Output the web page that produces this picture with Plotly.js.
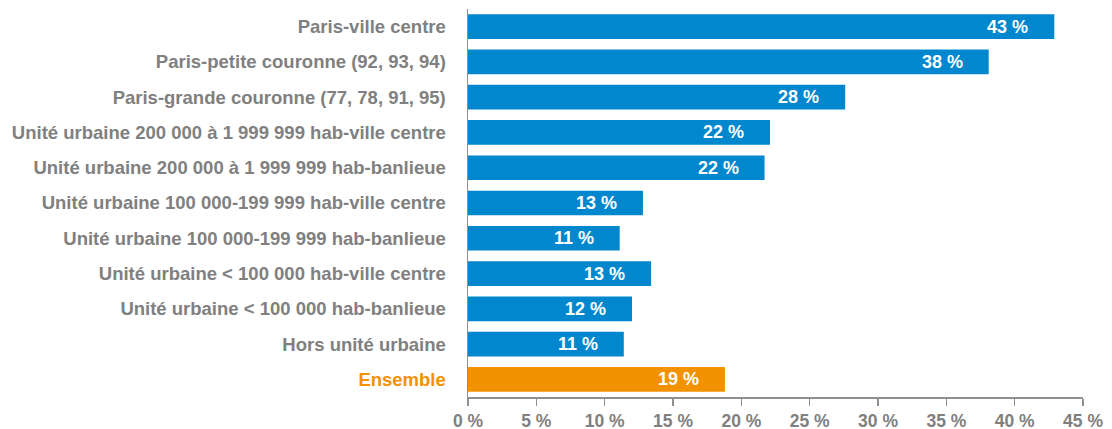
<!DOCTYPE html>
<html>
<head>
<meta charset="utf-8">
<script src="https://cdn.plot.ly/plotly-3.0.1.min.js"></script>
<style>html,body{margin:0;padding:0;background:#fff;}#chart{width:1112px;height:429px;}</style>
</head>
<body>
<div id="chart"></div>
<script>
const categories = [
  "Paris-ville centre",
  "Paris-petite couronne (92, 93, 94)",
  "Paris-grande couronne (77, 78, 91, 95)",
  "Unité urbaine 200 000 à 1 999 999 hab-ville centre",
  "Unité urbaine 200 000 à 1 999 999 hab-banlieue",
  "Unité urbaine 100 000-199 999 hab-ville centre",
  "Unité urbaine 100 000-199 999 hab-banlieue",
  "Unité urbaine < 100 000 hab-ville centre",
  "Unité urbaine < 100 000 hab-banlieue",
  "Hors unité urbaine",
  "Ensemble"
];
const values = [42.9, 38.1, 27.6, 22.1, 21.7, 12.8, 11.1, 13.4, 12.0, 11.4, 18.8];
const labels = ["43 %", "38 %", "28 %", "22 %", "22 %", "13 %", "11 %", "13 %", "12 %", "11 %", "19 %"];
const xTickVals = [0, 5, 10, 15, 20, 25, 30, 35, 40, 45];
const xTickText = ["0 %", "5 %", "10 %", "15 %", "20 %", "25 %", "30 %", "35 %", "40 %", "45 %"];

const BLUE = "#0087CD", ORANGE = "#F39200", GRAY = "#808080", AXIS = "#8f8f8f";
const FONT = "Liberation Sans, Arial, sans-serif";
const colors = categories.map(c => c === "Ensemble" ? ORANGE : BLUE);
const yTickText = categories.map(c => {
  const t = c.replace(/</g, "&lt;");
  return c === "Ensemble" ? `<span style="color:${ORANGE}">${t}</span>` : t;
});

const trace = {
  type: "bar",
  orientation: "h",
  x: values,
  y: categories,
  marker: {color: colors},
  hoverinfo: "none"
};

const annotations = values.map((v, i) => ({
  x: v, y: categories[i], xref: "x", yref: "y",
  text: labels[i], showarrow: false,
  xanchor: "right", xshift: -24,
  font: {family: FONT, size: 18, color: "#ffffff", weight: "bold"}
}));

const layout = {
  width: 1112, height: 429,
  margin: {l: 468, r: 29, t: 9, b: 32},
  paper_bgcolor: "#ffffff", plot_bgcolor: "#ffffff",
  showlegend: false,
  bargap: 0.30,
  font: {family: FONT, color: GRAY, size: 18, weight: "bold"},
  xaxis: {
    range: [0, 45], tickvals: xTickVals, ticktext: xTickText,
    showgrid: false, zeroline: false,
    showline: true, linecolor: AXIS, linewidth: 1.5,
    ticks: "outside", ticklen: 7, tickcolor: AXIS, tickwidth: 1.5,
    tickfont: {family: FONT, size: 17.5, color: GRAY, weight: "bold"},
    fixedrange: true
  },
  yaxis: {
    type: "category", autorange: "reversed",
    tickmode: "array", tickvals: categories, ticktext: yTickText,
    showgrid: false, zeroline: false,
    showline: true, linecolor: AXIS, linewidth: 1.5,
    ticks: "", ticklabelstandoff: 17,
    tickfont: {family: FONT, size: 18.5, color: GRAY, weight: "bold"},
    fixedrange: true
  },
  annotations: annotations
};

Plotly.newPlot("chart", [trace], layout, {displayModeBar: false, staticPlot: true});
</script>
</body>
</html>
